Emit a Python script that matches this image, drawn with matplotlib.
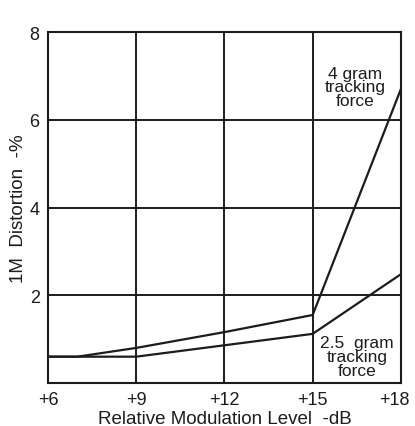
import matplotlib
matplotlib.use('Agg')
import matplotlib.pyplot as plt
import matplotlib.transforms as mtrans

# relative modulation level (dB) and IM distortion (%)
level_db = [6, 7, 9, 12, 15, 18]
dist_4g = [0.6, 0.6, 0.8, 1.16, 1.55, 6.7]
dist_25g = [0.6, 0.6, 0.6, 0.86, 1.12, 2.48]

x_ticks = [6, 9, 12, 15, 18]
x_labels = ['+6', '+9', '+12', '+15', '+18']
y_ticks = [2, 4, 6, 8]

plt.rcParams['font.family'] = ['Liberation Sans', 'DejaVu Sans']
ink = '#1c1c1c'

fig = plt.figure(figsize=(4.15, 4.27), dpi=100)
ax = fig.add_axes([0.1157, 0.1007, 0.8503, 0.822])

ax.plot(level_db, dist_4g, color=ink, lw=1.6)
ax.plot(level_db, dist_25g, color=ink, lw=1.6)

ax.set_xlim(6, 18)
ax.set_ylim(0, 8)
ax.set_xticks(x_ticks)
ax.set_xticklabels(x_labels)
ax.set_yticks(y_ticks)
ax.grid(True, color=ink, lw=1.4)
ax.tick_params(length=0, labelsize=13, colors=ink, pad=6)
for s in ax.spines.values():
    s.set_color(ink)
    s.set_linewidth(1.5)

# last label sits a bit left of its gridline so it stays on the page
lbl = ax.get_xticklabels()[-1]
lbl.set_transform(lbl.get_transform() + mtrans.ScaledTranslation(-7 / 100, 0, fig.dpi_scale_trans))

ax.set_xlabel('Relative Modulation Level  -dB', fontsize=13.5, color=ink, labelpad=1)
ax.set_ylabel('1M  Distortion  -%', fontsize=13.5, color=ink, labelpad=2)

ax.text(16.45, 6.75, '4 gram\ntracking\nforce', ha='center', va='center',
        fontsize=12.5, color=ink, linespacing=0.9)
ax.text(16.5, 0.6, '2.5  gram\ntracking\nforce', ha='center', va='center',
        fontsize=12.5, color=ink, linespacing=0.9,
        bbox=dict(facecolor='white', edgecolor='none', pad=0.3))

# cut-off caption fragment at the very top
fig.text(0.075, 1.028, 'g', fontsize=18, color=ink, ha='left', va='center')

fig.savefig('out.png', dpi=100)
